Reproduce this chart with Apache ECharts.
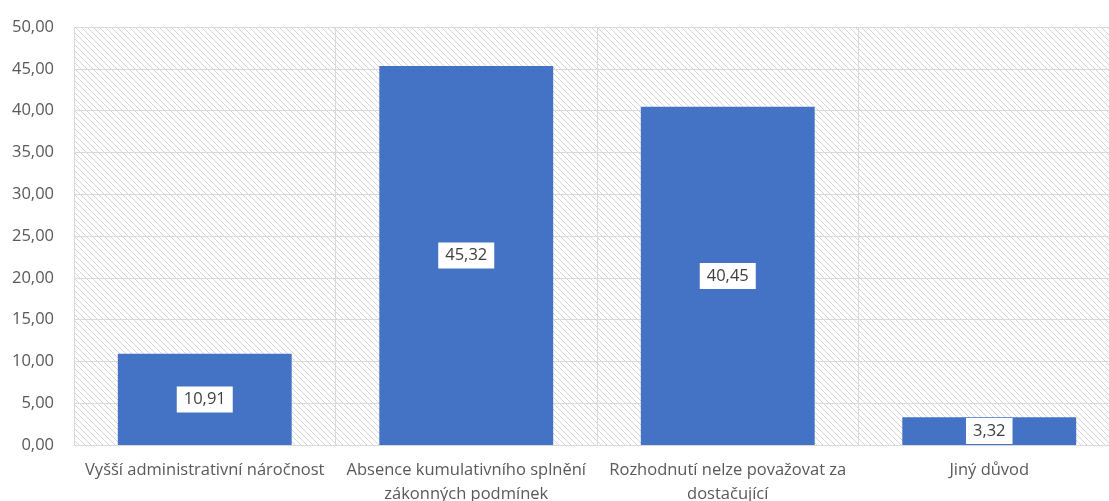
<!DOCTYPE html>
<html>
<head>
<meta charset="utf-8">
<script src="https://cdn.jsdelivr.net/npm/echarts@6/dist/echarts.min.js"></script>
<style>
  html, body { margin: 0; padding: 0; background: #fff; }
  #main { width: 1109px; height: 501px; }
</style>
</head>
<body>
<div id="main"></div>
<script>
const categories = [
  'Vyšší administrativní náročnost',
  'Absence kumulativního splnění\nzákonných podmínek',
  'Rozhodnutí nelze považovat za\ndostačující',
  'Jiný důvod'
]
const values = [10.91, 45.32, 40.45, 3.32]

// hatch pattern for the plot background
function hatch() {
  let size = 6
  let c = document.createElement('canvas')
  c.width = size
  c.height = size
  let ctx = c.getContext('2d')
  ctx.fillStyle = '#ffffff'
  ctx.fillRect(0, 0, size, size)
  ctx.strokeStyle = '#d4d4d4'
  ctx.lineWidth = 1
  ctx.beginPath()
  ctx.moveTo(-1, -1)
  ctx.lineTo(size + 1, size + 1)
  ctx.moveTo(-1, size - 1)
  ctx.lineTo(1, size + 1)
  ctx.moveTo(size - 1, -1)
  ctx.lineTo(size + 1, 1)
  ctx.stroke()
  return c
}

const fmt = v => v.toFixed(2).replace('.', ',')
const font = '"Open Sans", "Noto Sans", sans-serif'

let chart = echarts.init(document.getElementById('main'))
let option = {
  animation: false,
  grid: {
    show: true,
    left: 74,
    top: 27,
    width: 1046,
    height: 418,
    containLabel: false,
    outerBoundsMode: 'none',
    borderWidth: 0,
    backgroundColor: { image: hatch(), repeat: 'repeat' }
  },
  xAxis: {
    type: 'category',
    data: categories,
    axisLine: { lineStyle: { color: '#d9d9d9', width: 1 } },
    axisTick: { show: false },
    splitLine: { show: true, interval: 0, lineStyle: { color: '#d9d9d9' } },
    axisLabel: {
      interval: 0,
      margin: 13,
      color: '#595959',
      fontSize: 16.5,
      lineHeight: 24,
      fontFamily: font
    }
  },
  yAxis: {
    type: 'value',
    min: 0,
    max: 50,
    interval: 5,
    axisLine: { show: false },
    axisTick: { show: false },
    splitLine: { lineStyle: { color: '#d9d9d9' } },
    axisLabel: {
      margin: 20,
      color: '#595959',
      fontSize: 16.5,
      fontFamily: font,
      formatter: v => fmt(v)
    }
  },
  series: [{
    type: 'bar',
    data: values,
    barWidth: '66.5%',
    itemStyle: { color: '#4472c4' },
    label: {
      show: true,
      position: 'inside',
      formatter: p => fmt(p.value),
      backgroundColor: '#ffffff',
      padding: [5, 7, 4, 7],
      color: '#404040',
      fontSize: 16.5,
      fontFamily: font
    }
  }]
}
chart.setOption(option)
</script>
</body>
</html>
